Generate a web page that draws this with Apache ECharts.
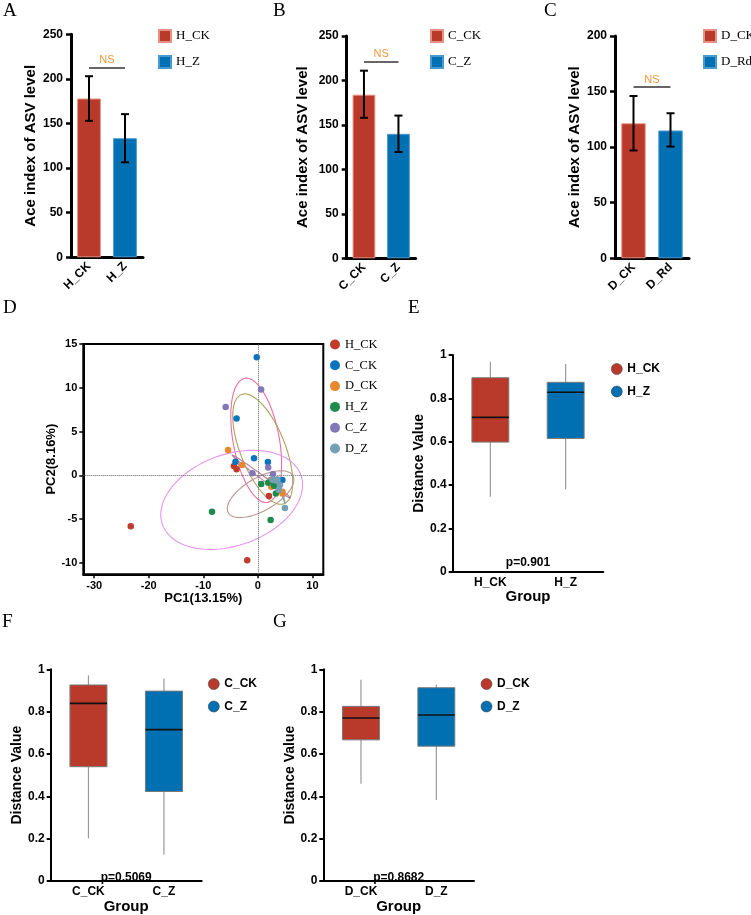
<!DOCTYPE html>
<html>
<head>
<meta charset="utf-8">
<script src="https://cdn.jsdelivr.net/npm/echarts@6/dist/echarts.min.js"></script>
<style>
html,body{margin:0;padding:0;background:#fff}
#main{width:751px;height:915px}
</style>
</head>
<body>
<div id="main"></div>
<script>
// ---- A, B, C : Ace index bars ----
var aceGroups = [['H_CK', 'H_Z'], ['C_CK', 'C_Z'], ['D_CK', 'D_Rd']]
var aceMean = [[178, 133.5], [184, 140], [121.5, 115]]
var aceLow = [[153, 106.5], [158, 119.5], [97, 100.5]]
var aceHigh = [[203, 160.5], [211, 160.5], [146, 130.5]]
var aceNS = [213, 221, 154]
var aceMax = [250, 250, 200]

// ---- D : PCA ----
var pcaGroups = ['H_CK', 'C_CK', 'D_CK', 'H_Z', 'C_Z', 'D_Z']
var pcaHCK = [[-23.3, -5.8], [-1.95, -9.7], [-4.4, 1.06], [-3.9, 0.69], [2.03, -2.37], [3.0, -1.0]]
var pcaCCK = [[-0.2, 13.5], [-3.9, 6.5], [-4.1, 1.56], [-0.7, 1.95], [1.84, 1.52], [4.5, -0.54]]
var pcaDCK = [[-5.45, 2.9], [-2.9, 1.18], [2.46, -1.3], [4.5, -1.87], [2.34, -0.54], [4.5, -2.06]]
var pcaHZ = [[-8.4, -4.16], [2.34, -5.1], [0.62, -1.0], [1.9, -0.84], [3.3, -2.06], [3.0, -1.2]]
var pcaCZ = [[-5.9, 7.8], [0.6, 9.8], [1.9, 0.9], [-1.0, 0.23], [2.76, 0.15], [3.6, -0.5]]
var pcaDZ = [[4.97, -3.74], [3.57, -0.46], [4.05, -1.1], [3.87, -1.68], [2.65, -0.46], [3.3, -0.6]]
// ellipse: centre, conjugate half-axis u, conjugate half-axis v
var pcaEllipses = [
  [-0.3, 4.0, -1.8, 7.1, 4.3, 0],
  [0.9, 3.0, -3.3, 6.3, 4.4, 0],
  [-4.8, -2.8, 13.0, 1.7, 0, 5.4],
  [0.5, -2.15, 6.1, 1.65, 0, 2.1],
  [0.65, -0.15, 5.35, -2.45, 0, 0.25],
  [4.4, -2.0, 0.6, -1.2, 0, 0.2]
]
var ellipseColors = ['#f06aa8', '#a9a35a', '#e596f0', '#b89590', '#b27e9c', '#7aa3b3']

// ---- E, F, G : distance boxes  [min, Q1, median, Q3, max] ----
var boxGroups = [['H_CK', 'H_Z'], ['C_CK', 'C_Z'], ['D_CK', 'D_Z']]
var boxE = [[0.346, 0.598, 0.712, 0.895, 0.969], [0.38, 0.615, 0.828, 0.874, 0.958]]
var boxF = [[0.202, 0.54, 0.839, 0.926, 0.971], [0.126, 0.423, 0.715, 0.897, 0.956]]
var boxG = [[0.46, 0.667, 0.77, 0.825, 0.951], [0.383, 0.637, 0.784, 0.913, 0.928]]
var boxP = ['p=0.901', 'p=0.5069', 'p=0.8682']

var red = '#b93a2a'
var blue = '#0070b2'
var pcaColors = ['#c13b2c', '#0a74bc', '#e8882a', '#1e8b4c', '#8277b8', '#73a0b4']
var arial = 'Arial, "Liberation Sans", sans-serif'
var times = '"Times New Roman", "Liberation Serif", serif'

var chart = echarts.init(document.getElementById('main'))

var grids = [
  {left: 71, top: 34.3, width: 72, height: 223},
  {left: 346.7, top: 36, width: 69, height: 222.3},
  {left: 615, top: 36, width: 74, height: 222.3},
  {left: 83.3, top: 344, width: 240, height: 230.3, show: true, borderColor: '#000', borderWidth: 2},
  {left: 452.7, top: 355, width: 150.6, height: 216.7},
  {left: 50.7, top: 669.3, width: 151, height: 217.4},
  {left: 323.3, top: 669.3, width: 150.7, height: 217}
]

var xAxes = [], yAxes = [], series = [], legends = [], graphics = []
var stripName = function (n) { return n.split(':')[1] }

function renderErr(params, api) {
  var x = api.value(0)
  var p1 = api.coord([x, api.value(1)])
  var p2 = api.coord([x, api.value(2)])
  var w = 4
  var st = {stroke: '#000', lineWidth: 2}
  return {type: 'group', children: [
    {type: 'line', shape: {x1: p1[0], y1: p1[1], x2: p2[0], y2: p2[1]}, style: st},
    {type: 'line', shape: {x1: p1[0] - w, y1: p1[1], x2: p1[0] + w, y2: p1[1]}, style: st},
    {type: 'line', shape: {x1: p2[0] - w, y1: p2[1], x2: p2[0] + w, y2: p2[1]}, style: st}
  ]}
}

// bar panels
var yNameGaps = [33, 36, 33]
var legendLefts = [158, 430, 703]
for (var i = 0; i < 3; i++) {
  var g = aceGroups[i]
  xAxes.push({
    type: 'category', gridIndex: i, data: g,
    axisLine: {lineStyle: {color: '#000', width: 3}},
    axisTick: {alignWithLabel: true, length: 4, lineStyle: {width: 2, color: '#000'}},
    axisLabel: {rotate: 45, fontWeight: 'bold', fontSize: 12, color: '#000', fontFamily: arial, margin: 7}
  })
  yAxes.push({
    type: 'value', gridIndex: i, min: 0, max: aceMax[i], interval: 50,
    splitLine: {show: false},
    axisLine: {show: true, lineStyle: {color: '#000', width: 3}},
    axisTick: {show: true, length: 5, lineStyle: {width: 2.5, color: '#000'}},
    axisLabel: {fontWeight: 'bold', fontSize: 12, color: '#000', fontFamily: arial, margin: 8},
    name: 'Ace index of ASV level', nameLocation: 'middle', nameGap: yNameGaps[i],
    nameTextStyle: {fontWeight: 'bold', fontSize: 15, color: '#000', fontFamily: arial}
  })
  var cols = [red, blue]
  var borders = ['#e69282', '#4a9ad2']
  for (var k = 0; k < 2; k++) {
    var d = ['-', '-']
    d[k] = aceMean[i][k]
    var s = {
      type: 'bar', name: 'P' + i + ':' + g[k], xAxisIndex: i, yAxisIndex: i,
      data: d, barWidth: '66%', barGap: '-100%',
      itemStyle: {color: cols[k], borderColor: borders[k], borderWidth: 1}
    }
    if (k === 0) {
      s.markLine = {
        silent: true, symbol: 'none', animation: false,
        lineStyle: {type: 'solid', color: '#333', width: 1.5},
        label: {show: true, position: 'middle', formatter: 'NS', color: '#f0983a', fontSize: 11, fontFamily: arial, distance: 2},
        data: [[{coord: [g[0], aceNS[i]]}, {coord: [g[1], aceNS[i]]}]]
      }
    }
    series.push(s)
  }
  series.push({
    type: 'custom', xAxisIndex: i, yAxisIndex: i, renderItem: renderErr,
    encode: {x: 0, y: [1, 2]}, z: 5,
    data: [[0, aceLow[i][0], aceHigh[i][0]], [1, aceLow[i][1], aceHigh[i][1]]]
  })
  legends.push({
    orient: 'vertical', left: legendLefts[i], top: 29, icon: 'rect', padding: 0,
    itemWidth: 12, itemHeight: 12, itemGap: 12, selectedMode: false,
    formatter: stripName,
    textStyle: {fontFamily: times, fontSize: 13, color: '#000', overflow: 'none'},
    data: [{name: 'P' + i + ':' + g[0], itemStyle: {color: red}}, {name: 'P' + i + ':' + g[1], itemStyle: {color: blue}}]
  })
}

// PCA panel
xAxes.push({
  type: 'value', gridIndex: 3, min: -32, max: 12,
  splitLine: {show: false},
  axisLine: {show: true, onZero: false, lineStyle: {color: '#000', width: 2}},
  axisTick: {show: true, length: 4, lineStyle: {width: 1.5, color: '#000'}},
  axisLabel: {fontWeight: 'bold', fontSize: 11, color: '#000', fontFamily: arial, margin: 6, showMinLabel: false, showMaxLabel: false},
  name: 'PC1(13.15%)', nameLocation: 'middle', nameGap: 13,
  nameTextStyle: {fontWeight: 'bold', fontSize: 13, color: '#000', fontFamily: arial}
})
yAxes.push({
  type: 'value', gridIndex: 3, min: -11.3, max: 15,
  splitLine: {show: false},
  axisLine: {show: true, onZero: false, lineStyle: {color: '#000', width: 2}},
  axisTick: {show: true, length: 4, lineStyle: {width: 1.5, color: '#000'}},
  axisLabel: {fontWeight: 'bold', fontSize: 11, color: '#000', fontFamily: arial, margin: 6, showMinLabel: false},
  name: 'PC2(8.16%)', nameLocation: 'middle', nameGap: 19,
  nameTextStyle: {fontWeight: 'bold', fontSize: 13, color: '#000', fontFamily: arial}
})
series.push({
  type: 'custom', xAxisIndex: 3, yAxisIndex: 3, z: 1, silent: true,
  encode: {x: 0, y: 1},
  renderItem: function (params, api) {
    var cx = api.value(0), cy = api.value(1), ux = api.value(2), uy = api.value(3), vx = api.value(4), vy = api.value(5)
    var pts = []
    for (var j = 0; j <= 90; j++) {
      var t = j / 90 * Math.PI * 2
      pts.push(api.coord([cx + ux * Math.cos(t) + vx * Math.sin(t), cy + uy * Math.cos(t) + vy * Math.sin(t)]))
    }
    return {type: 'polyline', shape: {points: pts}, style: {stroke: api.visual('color'), fill: 'none', lineWidth: 1.1}}
  },
  data: pcaEllipses.map(function (e, j) { return {value: e, itemStyle: {color: ellipseColors[j]}} })
})
var pcaData = [pcaHCK, pcaCCK, pcaDCK, pcaHZ, pcaCZ, pcaDZ]
for (var j = 0; j < 6; j++) {
  var sc = {
    type: 'scatter', name: 'D:' + pcaGroups[j], xAxisIndex: 3, yAxisIndex: 3,
    data: pcaData[j], symbolSize: 6.5, z: 3 + j,
    itemStyle: {color: pcaColors[j], opacity: 1}
  }
  if (j === 0) {
    sc.markLine = {
      silent: true, symbol: 'none', animation: false,
      lineStyle: {type: 'dotted', color: '#666', width: 1},
      label: {show: false},
      data: [{xAxis: 0}, {yAxis: 0}]
    }
  }
  series.push(sc)
}
legends.push({
  orient: 'vertical', left: 330, top: 338, icon: 'circle', padding: 0,
  itemWidth: 10, itemHeight: 10, itemGap: 7.8, selectedMode: false,
  formatter: stripName,
  textStyle: {fontFamily: times, fontSize: 12.5, color: '#000'},
  data: pcaGroups.map(function (n, j) { return {name: 'D:' + n, itemStyle: {color: pcaColors[j]}} })
})

// box panels
function renderBox(params, api) {
  var x = api.value(0)
  var lo = api.coord([x, api.value(1)])
  var q1 = api.coord([x, api.value(2)])
  var md = api.coord([x, api.value(3)])
  var q3 = api.coord([x, api.value(4)])
  var hi = api.coord([x, api.value(5)])
  var hw = api.size([1, 0])[0] * 0.245
  return {type: 'group', children: [
    {type: 'line', shape: {x1: lo[0], y1: lo[1], x2: hi[0], y2: hi[1]}, style: {stroke: '#9a9a9a', lineWidth: 1.2}},
    {type: 'rect', shape: {x: q3[0] - hw, y: q3[1], width: hw * 2, height: q1[1] - q3[1]},
      style: {fill: api.visual('color'), stroke: '#7a7a7a', lineWidth: 1}},
    {type: 'line', shape: {x1: md[0] - hw, y1: md[1], x2: md[0] + hw, y2: md[1]}, style: {stroke: '#111', lineWidth: 1.6}}
  ]}
}
var boxData = [boxE, boxF, boxG]
var boxYGap = [24, 24, 24]
var boxLegendPos = [[611, 363], [208, 678], [480.7, 678]]
for (var b = 0; b < 3; b++) {
  var gi = 4 + b
  var bg = boxGroups[b]
  xAxes.push({
    type: 'category', gridIndex: gi, data: bg,
    axisLine: {lineStyle: {color: '#000', width: 2}},
    axisTick: {alignWithLabel: true, length: 3, lineStyle: {width: 2, color: '#000'}},
    axisLabel: {fontWeight: 'bold', fontSize: 12, color: '#000', fontFamily: arial, margin: 5},
    name: 'Group', nameLocation: 'middle', nameGap: 13,
    nameTextStyle: {fontWeight: 'bold', fontSize: 15, color: '#000', fontFamily: arial}
  })
  yAxes.push({
    type: 'value', gridIndex: gi, min: 0, max: 1, interval: 0.2,
    splitLine: {show: false},
    axisLine: {show: true, lineStyle: {color: '#000', width: 2}},
    axisTick: {show: true, length: 4, lineStyle: {width: 2, color: '#000'}},
    axisLabel: {fontWeight: 'bold', fontSize: 12, color: '#000', fontFamily: arial, margin: 6},
    name: 'Distance Value', nameLocation: 'middle', nameGap: boxYGap[b],
    nameTextStyle: {fontWeight: 'bold', fontSize: 14, color: '#000', fontFamily: arial}
  })
  var bcols = [red, blue]
  for (var k2 = 0; k2 < 2; k2++) {
    series.push({
      type: 'custom', name: 'B' + b + ':' + bg[k2], xAxisIndex: gi, yAxisIndex: gi,
      renderItem: renderBox, encode: {x: 0, y: [1, 2, 3, 4, 5]},
      itemStyle: {color: bcols[k2]},
      data: [[k2].concat(boxData[b][k2])]
    })
  }
  legends.push({
    orient: 'vertical', left: boxLegendPos[b][0], top: boxLegendPos[b][1], icon: 'circle', padding: 0,
    itemWidth: 11, itemHeight: 11, itemGap: 10.5, selectedMode: false,
    formatter: stripName,
    textStyle: {fontFamily: arial, fontSize: 12, fontWeight: 'bold', color: '#000'},
    data: [{name: 'B' + b + ':' + bg[0], itemStyle: {color: red, borderColor: '#444', borderWidth: 0.6}},
           {name: 'B' + b + ':' + bg[1], itemStyle: {color: blue, borderColor: '#444', borderWidth: 0.6}}]
  })
  var gr = grids[gi]
  graphics.push({
    type: 'text', x: gr.left + gr.width / 2, y: gr.top + gr.height - 9,
    style: {text: boxP[b], align: 'center', verticalAlign: 'middle', textAlign: 'center', textVerticalAlign: 'middle',
      fill: '#000', font: 'bold 12px ' + arial}
  })
}

var letters = [['A', 3, 2], ['B', 273, 2], ['C', 544, 2], ['D', 3, 299], ['E', 408, 299], ['F', 2, 613], ['G', 273, 613]]
var titles = letters.map(function (l) {
  return {text: l[0], left: l[1], top: l[2], padding: 0,
    textStyle: {fontFamily: times, fontSize: 19, fontWeight: 'normal', color: '#000'}}
})

chart.setOption({
  animation: false,
  backgroundColor: '#fff',
  title: titles,
  grid: grids,
  xAxis: xAxes,
  yAxis: yAxes,
  legend: legends,
  graphic: graphics,
  series: series
})
</script>
</body>
</html>
